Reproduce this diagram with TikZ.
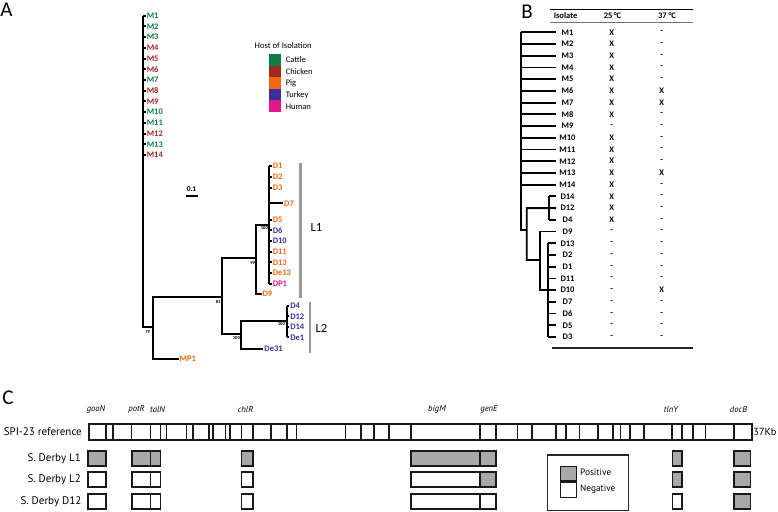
\documentclass[tikz,border=0pt]{standalone}
\usepackage{fontspec}
\setmainfont{Carlito}
\newfontfamily\ptsans{PT Sans}
\definecolor{catC}{HTML}{0E7C47}
\definecolor{chkC}{HTML}{A2271F}
\definecolor{pigC}{HTML}{F0680F}
\definecolor{turC}{HTML}{3C2F9A}
\definecolor{humC}{HTML}{E0188C}
\definecolor{gbar}{HTML}{999999}
\definecolor{gfill}{HTML}{A8A8A8}
\newcommand\leaffont{\bfseries\fontsize{8.5}{8.5}\selectfont}
\newcommand\bootfont{\bfseries\fontsize{4.6}{4.6}\selectfont}
\newcommand\bfnt{\bfseries\fontsize{8.5}{8.5}\selectfont}
\newcommand\cfnt{\ptsans\fontsize{11}{11}\selectfont}
\begin{document}
\begin{tikzpicture}[x=1pt,y=-1pt,
  leaf/.style={font=\leaffont, anchor=west, inner sep=0.8pt},
  hcat/.style={text=catC}, hchk/.style={text=chkC}, hpig/.style={text=pigC},
  htur/.style={text=turC}, hhum/.style={text=humC},
  br/.style={line width=2pt, line join=miter},
  bbr/.style={line width=1.8pt, line join=miter},
  boot/.style={font=\bootfont, inner sep=0pt},
  blab/.style={font=\bfnt, inner sep=0pt},
  letter/.style={font=\fontsize{21}{21}\selectfont, inner sep=0pt},
  grpbar/.style={draw=gbar, line width=2.6pt},
  cseg/.style={draw=black!90, line width=1.8pt},
  gene/.style={font=\ptsans\itshape\fontsize{8.6}{8.6}\selectfont, inner sep=0pt},
  clab/.style={font=\cfnt, inner sep=0pt},
  swatch/.style={minimum width=12.5pt, minimum height=11.6pt, inner sep=0pt, anchor=north west},
  legtext/.style={font=\fontsize{8.5}{8.5}\selectfont, anchor=west, inner sep=0pt}
]
\useasboundingbox (0,0) rectangle (778,511);

% ---------- panel letters
\node[letter] (LA) at (6.5,9.5) {A};
\node[letter] (LB) at (527,12) {B};
\node[letter] (LC) at (8,397.5) {C};

% ---------- Panel A : leaves
\foreach \n/\c [count=\i from 0] in {M1/hcat,M2/hcat,M3/hcat,M4/hchk,M5/hchk,M6/hchk,M7/hcat,M8/hchk,M9/hchk,M10/hcat,M11/hcat,M12/hchk,M13/hcat,M14/hchk}
  \node[leaf,\c] (a\n) at (145.8,{15.7+10.72*\i}) {\n};
\foreach \n/\y/\c in {D1/165.7/hpig,D2/176.7/hpig,D3/187.7/hpig,D5/219.7/hpig,D6/230.2/htur,D10/240.8/htur,D11/251.6/hpig,D13/262.3/hpig,De13/273/hpig,DP1/283.5/hhum}
  \node[leaf,\c] (a\n) at (271.8,\y) {\n};
\node[leaf,hpig] (aD7) at (283.2,203.3) {D7};
\node[leaf,hpig] (aD9) at (261.6,294) {D9};
\foreach \n/\y in {D4/305.7,D12/316.3,D14/326.8,De1/337.3}
  \node[leaf,htur] (a\n) at (289.3,\y) {\n};
\node[leaf,htur] (aDe31) at (263.4,349) {De31};
\node[leaf,hpig] (aMP1) at (178.6,359) {MP1};

% ---------- Panel A : internal nodes
\coordinate (mv) at (143.3,0);
\coordinate (R) at (152.7,326.7);
\coordinate (N81) at (221.7,297.3);
\coordinate (N99) at (256,258.3);
\coordinate (N100a) at (269.3,225);
\coordinate (N100b) at (240.7,334);
\coordinate (N100c) at (286.7,321);

\draw[br] (mv |- aM1.west) -- (mv |- R) -- (R);
\foreach \n in {M1,M2,M3,M4,M5,M6,M7,M8,M9,M10,M11,M12,M13,M14}
  \draw[br] (mv |- a\n.west) -- (a\n.west);
\draw[br] (N81) -- (R |- N81) -- (R |- aMP1.west) -- (aMP1.west);
\draw[br] (N99) -- (N81 |- N99) -- (N81 |- N100b) -- (N100b);
\draw[br] (N100a) -- (N99 |- N100a) -- (N99 |- aD9.west) -- (aD9.west);
\draw[br] (N100c) -- (N100b |- N100c) -- (N100b |- aDe31.west) -- (aDe31.west);
\draw[br] (N100a |- aD1.west) -- (N100a |- aDP1.west);
\foreach \n in {D1,D2,D3,D7,D5,D6,D10,D11,D13,De13,DP1}
  \draw[br] (N100a |- a\n.west) -- (a\n.west);
\draw[br] (N100c |- aD4.west) -- (N100c |- aDe1.west);
\foreach \n in {D4,D12,D14,De1}
  \draw[br] (N100c |- a\n.west) -- (a\n.west);

% bootstrap values
\node[boot] (b79) at (147.6,331.8) {79};
\node[boot] (b81) at (218.2,302.4) {81};
\node[boot] (b99) at (252.6,263.4) {99};
\node[boot] (b100a) at (264.4,228.4) {100};
\node[boot] (b100b) at (236.4,338.4) {100};
\node[boot] (b100c) at (281.4,323.8) {100};

% group bars
\coordinate (g1t) at (300.7,163.3);
\coordinate (g1b) at (300.7,297.7);
\coordinate (g2t) at (310,301.7);
\coordinate (g2b) at (310,353.3);
\draw[grpbar] (g1t) -- (g1b);
\draw[grpbar] (g2t) -- (g2b);
\node[font=\fontsize{12.5}{12.5}\selectfont, anchor=west, inner sep=0pt] (L1) at (310.5,227) {L1};
\node[font=\fontsize{12.5}{12.5}\selectfont, anchor=west, inner sep=0pt] (L2) at (315.5,328.5) {L2};

% scale bar
\node[font=\bfseries\fontsize{7.4}{7.4}\selectfont, inner sep=0pt] (sc) at (191.5,188.6) {0.1};
\coordinate (scl) at (185.7,196);
\coordinate (scr) at (198.3,196);
\draw[line width=2pt] (scl) -- (scr);

% legend
\node[font=\fontsize{8.6}{8.6}\selectfont, anchor=west, inner sep=0pt] (legT) at (254.5,45.2) {Host of Isolation};
\foreach \c/\t [count=\i from 0] in {catC/Cattle,chkC/Chicken,pigC/Pig,turC/Turkey,humC/Human}{
  \node[swatch, fill=\c] (sw\i) at (268.3,{54+11.55*\i}) {};
  \node[legtext] (lt\i) at (285.6,{60+11.6*\i}) {\t};
}

% ---------- Panel B
\coordinate (hl) at (550,9.3);
\coordinate (hr) at (693,9.3);
\draw[line width=1.4pt] (hl) -- (hr);
\draw[line width=0.9pt, black!55] (550,22) -- (693,22);
\draw[line width=2pt, black!85] (551.7,347.7) -- (693,347.7);
\node[blab] (hIso) at (565.6,16) {Isolate};
\node[blab] (h25) at (612.5,16) {25\,°C};
\node[blab] (h37) at (667,16) {37 °C};

\foreach \n/\a/\b [count=\i from 0] in {M1/X/-,M2/X/-,M3/X/-,M4/X/-,M5/X/-,M6/X/X,M7/X/X,M8/X/-,M9/-/-,M10/X/-,M11/X/-,M12/X/-,M13/X/X,M14/X/-,D14/X/-,D12/X/-,D4/X/-,D9/-/-,D13/-/-,D2/-/-,D1/-/-,D11/-/-,D10/-/X,D7/-/-,D6/-/-,D5/-/-,D3/-/-}{
  \node[blab] (b\n) at (567.5,{32.3+11.72*\i}) {\n};
  \node[blab] (c25\n) at (611.7,{32.3+11.72*\i}) {\a};
  \node[blab] (c37\n) at (661.7,{32.3+11.72*\i}) {\b};
}
\coordinate (be) at (556,0);
\coordinate (bv) at (520.7,230);
\coordinate (bR) at (526.7,230);
\coordinate (bD) at (549.3,208.1);
\coordinate (bL) at (540,260);
\coordinate (bL2) at (548.3,290.1);
\draw[bbr] (bv |- bM1) -- (bv) -- (bR);
\foreach \n in {M1,M2,M3,M4,M5,M6,M7,M8,M9,M10,M11,M12,M13,M14}
  \draw[bbr] (bv |- b\n) -- (be |- b\n);
\draw[bbr] (be |- bD12) -- (bR |- bD) -- (bR |- bL) -- (bL);
\draw[bbr] (bD |- bD14) -- (bD |- bD4);
\foreach \n in {D14,D4}
  \draw[bbr] (bD |- b\n) -- (be |- b\n);
\draw[bbr] (be |- bD9) -- (bL |- bD9) -- (bL |- bL2) -- (bL2);
\draw[bbr] (bL2 |- bD13) -- (bL2 |- bD3);
\foreach \n in {D13,D2,D1,D11,D10,D7,D6,D5,D3}
  \draw[bbr] (bL2 |- b\n) -- (be |- b\n);

% ---------- Panel C
\foreach \t/\x in {gooN/96,potR/136.5,talN/157.5,chlR/245.5,bigM/437,genE/489,tlnY/671,docB/738.5}
  \node[gene] (g\t) at (\x,409.5) {\t};
\node[clab, anchor=east] (spi) at (82,431.6) {SPI-23 reference};
\node[font=\ptsans\fontsize{10.3}{10.3}\selectfont, anchor=west, inner sep=0pt] (kb) at (753.2,432) {37Kb};
\node[draw=black!90, line width=2pt, minimum width=663pt, minimum height=16pt, inner sep=0pt, anchor=north west] (bar) at (88,423) {};
\foreach \x in {106,113,131.5,150.5,160.5,166.5,186.5,193,209,213,225.5,230,241.5,253,271,287,296.5,345.5,361,374,389,411,480,496,517.5,532,556,566,579.5,598,613,620.5,630,644,672,682,693,705.5,734}
  \draw[line width=1.6pt, black!90] (bar.north west -| \x,0) -- (bar.south west -| \x,0);

\node[clab, anchor=east] (rL1) at (81,458.5) {S. Derby L1};
\node[clab, anchor=east] (rL2) at (81,479.6) {S. Derby L2};
\node[clab, anchor=east] (rD12) at (81.5,501.5) {S. Derby D12};
\foreach \ya/\yb/\fa/\fb/\fc/\fd/\fe/\ff/\fg/\fh in {
  451/466/gfill/gfill/gfill/gfill/gfill/gfill/gfill/gfill,
  472.3/487.3/white/white/white/white/white/gfill/gfill/gfill,
  494/509/white/white/white/white/white/white/white/gfill}{
  \draw[cseg, fill=\fa] (88,\ya) rectangle (106,\yb);
  \draw[cseg, fill=\fb] (132,\ya) rectangle (150.5,\yb);
  \draw[cseg, fill=\fc] (150.5,\ya) rectangle (160.5,\yb);
  \draw[cseg, fill=\fd] (241.5,\ya) rectangle (253,\yb);
  \draw[cseg, fill=\fe] (411,\ya) rectangle (480,\yb);
  \draw[cseg, fill=\ff] (480,\ya) rectangle (496,\yb);
  \draw[cseg, fill=\fg] (672.5,\ya) rectangle (682,\yb);
  \draw[cseg, fill=\fh] (734,\ya) rectangle (750.5,\yb);
}
\node[draw=black!85, line width=1.3pt, minimum width=81pt, minimum height=55.5pt, inner sep=0pt, anchor=north west] (leg) at (547,454.2) {};
\node[draw=black!90, line width=1.7pt, fill=gfill, minimum width=16pt, minimum height=14pt, inner sep=0pt, anchor=north west] (pos) at (559.5,465.5) {};
\node[draw=black!90, line width=1.7pt, fill=white, minimum width=16pt, minimum height=15.5pt, inner sep=0pt, anchor=north west] (neg) at (559.5,481) {};
\node[font=\ptsans\fontsize{9.3}{9.3}\selectfont, anchor=west, inner sep=0pt] (tpos) at (580,472.6) {Positive};
\node[font=\ptsans\fontsize{9.3}{9.3}\selectfont, anchor=west, inner sep=0pt] (tneg) at (580,489.5) {Negative};
\end{tikzpicture}
\end{document}
